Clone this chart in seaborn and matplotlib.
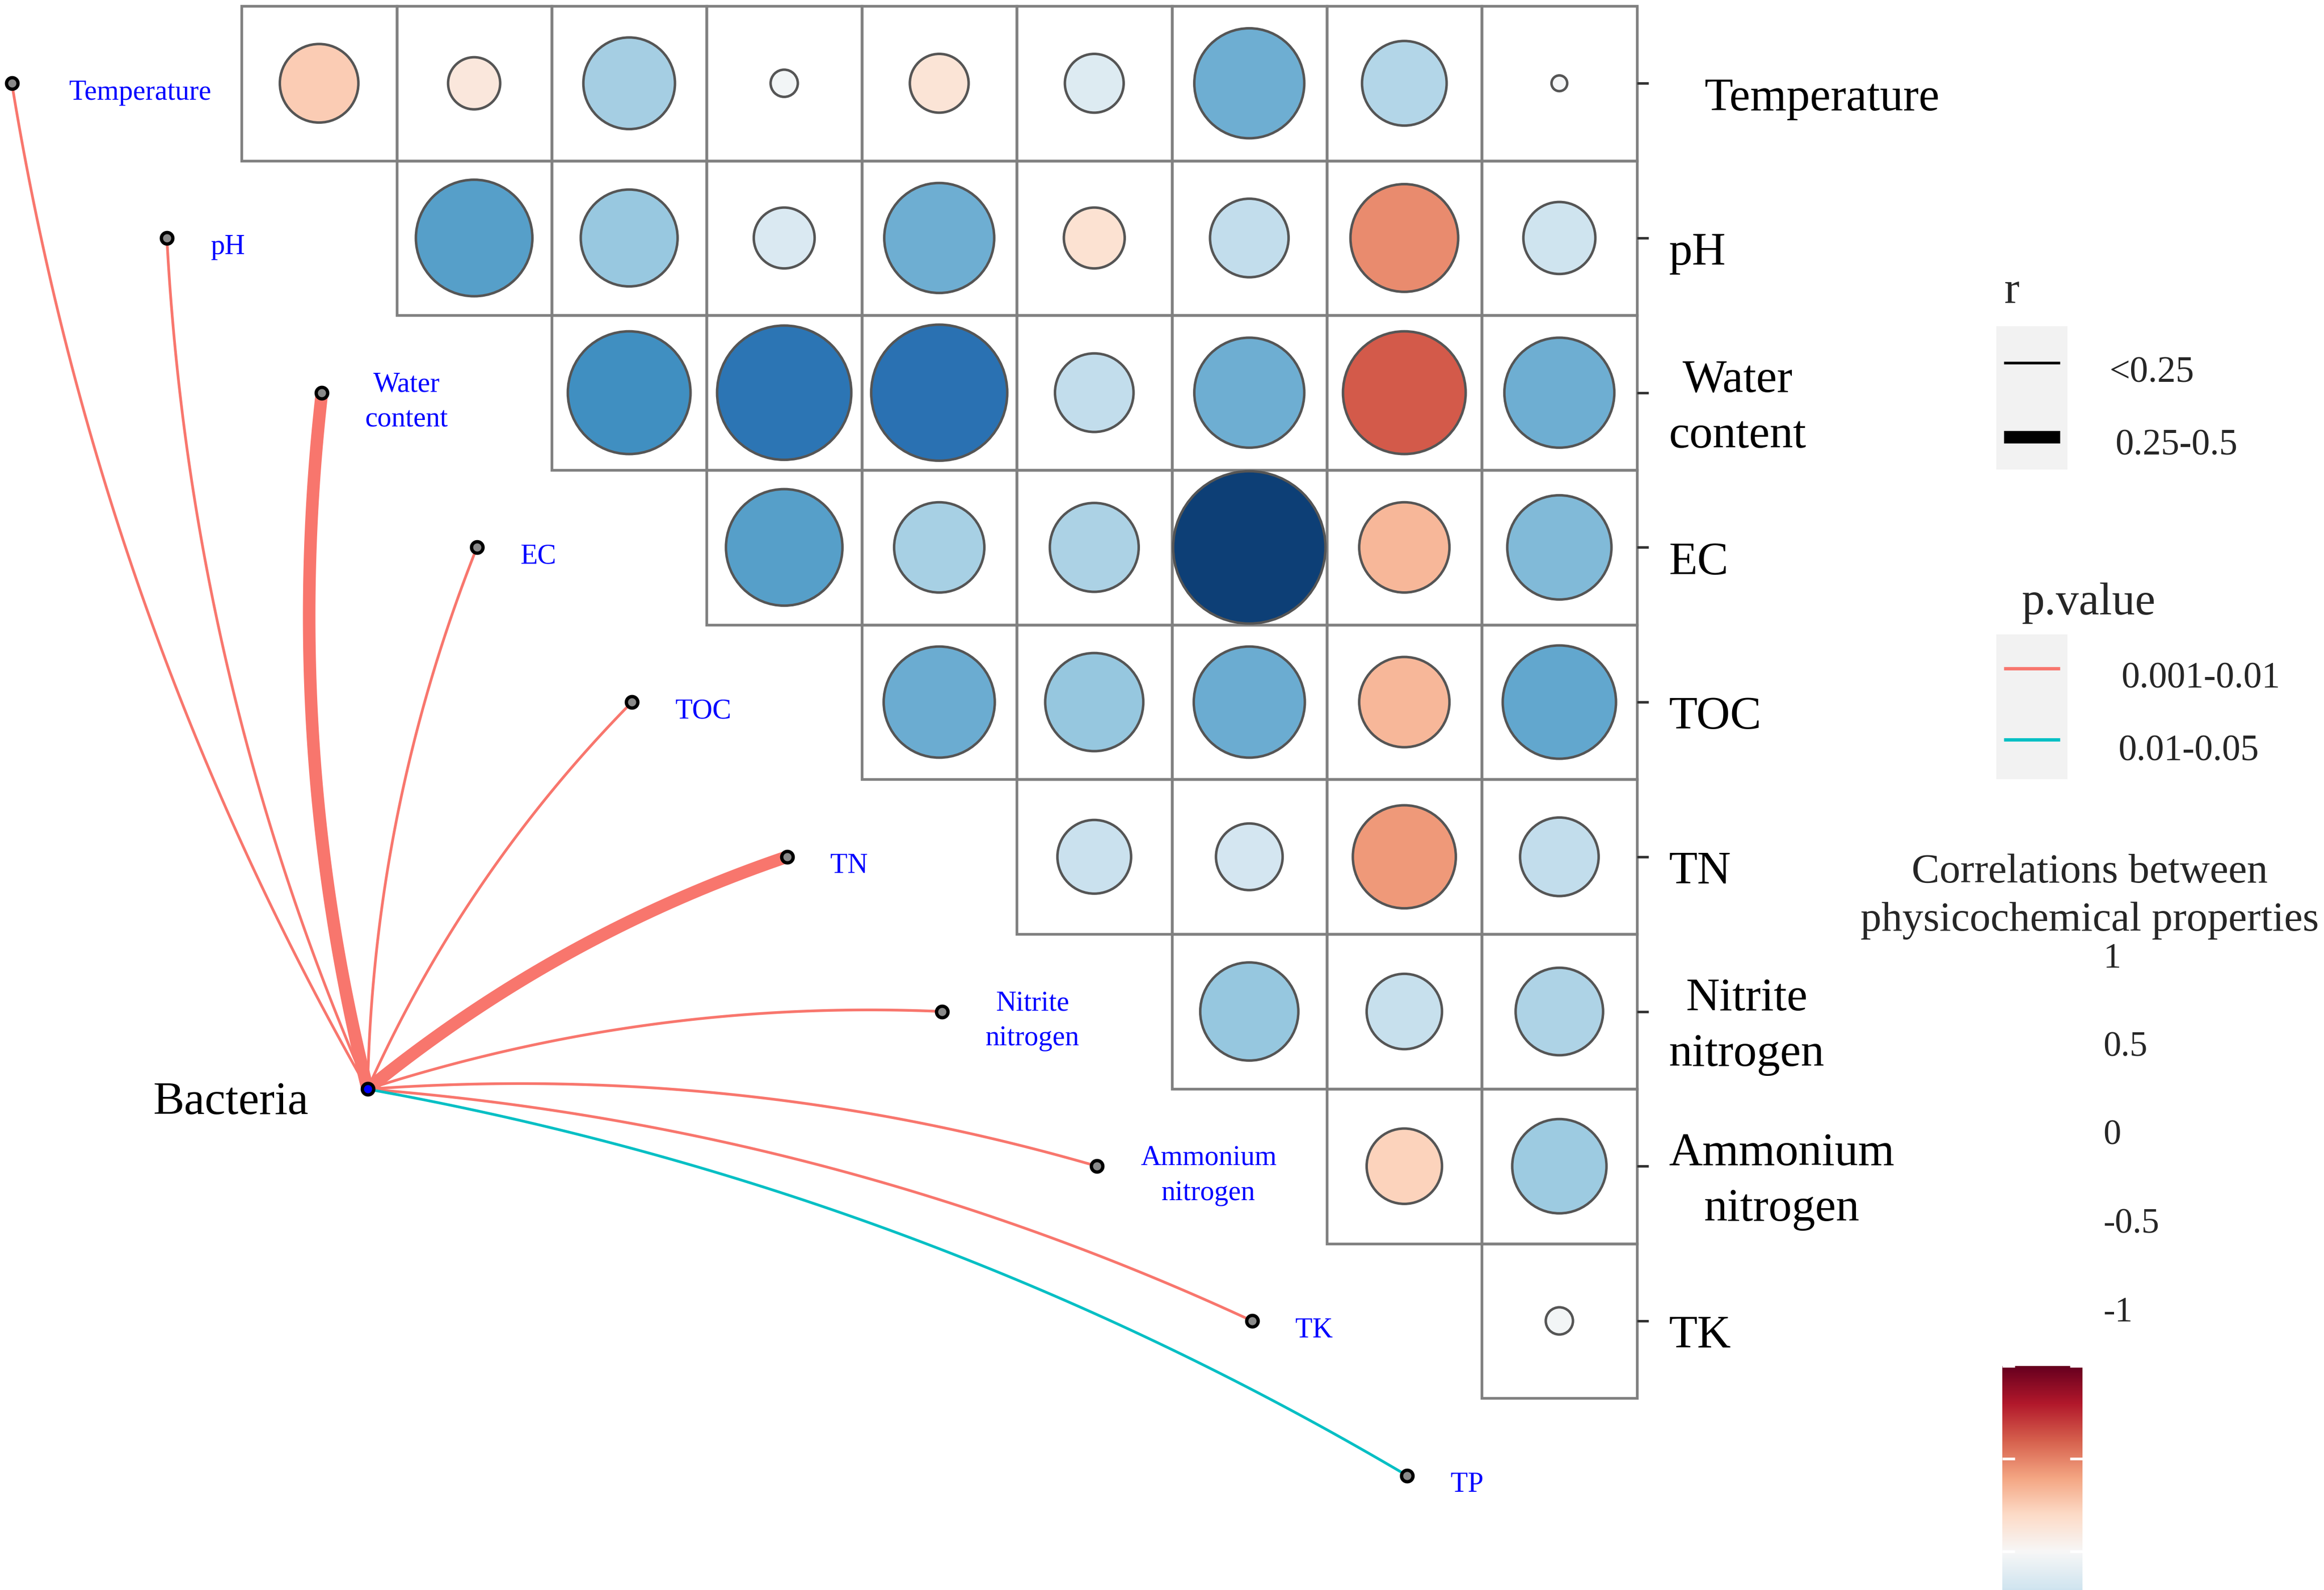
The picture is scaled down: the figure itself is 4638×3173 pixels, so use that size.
import matplotlib
matplotlib.use("Agg")
import matplotlib.pyplot as plt
import numpy as np
import pandas as pd
import seaborn as sns
from matplotlib.lines import Line2D
from matplotlib.patches import Rectangle

# variables (rows of the triangle + mantel targets)
variables = ["Temperature", "pH", "Water\ncontent", "EC", "TOC", "TN",
             "Nitrite\nnitrogen", "Ammonium\nnitrogen", "TK", "TP"]

# upper-triangle Pearson r: row i against variables i+1 ... TP
r_temperature = [0.25, 0.11, -0.34, -0.03, 0.14, -0.14, -0.49, -0.29, -0.01]
r_ph = [-0.55, -0.38, -0.15, -0.49, 0.15, -0.25, 0.47, -0.21]
r_water = [-0.61, -0.73, -0.75, -0.25, -0.49, 0.61, -0.49]
r_ec = [-0.55, -0.33, -0.32, -0.94, 0.33, -0.44]
r_toc = [-0.50, -0.39, -0.50, 0.33, -0.52]
r_tn = [-0.22, -0.18, 0.43, -0.25]
r_nitrite = [-0.39, -0.23, -0.31]
r_ammonium = [0.23, -0.36]
r_tk = [-0.03]
r_rows = [r_temperature, r_ph, r_water, r_ec, r_toc, r_tn, r_nitrite, r_ammonium, r_tk]

# mantel test Bacteria vs each property
mantel_r_class = ["<0.25", "<0.25", "0.25-0.5", "<0.25", "<0.25", "0.25-0.5",
                  "<0.25", "<0.25", "<0.25", "<0.25"]
mantel_p_class = ["0.001-0.01"] * 9 + ["0.01-0.05"]

r_levels = ["<0.25", "0.25-0.5"]
p_levels = ["0.001-0.01", "0.01-0.05"]
r_widths = {"<0.25": 1.3, "0.25-0.5": 6.0}
p_colors = {"0.001-0.01": "#F8766D", "0.01-0.05": "#00BFC4"}

# reference canvas in px, used for layout only
W, H = 1568, 1073
CW, CH = 104.6, 104.4
X0, Y0 = 163, 4


def fx(px):
    return px / W


def fy(py):
    return 1 - py / H


sns.set_theme(style="white")
plt.rcParams["font.family"] = ["Liberation Serif", "DejaVu Serif"]

fig = plt.figure(figsize=(4638 / 300, 3173 / 300), dpi=300)
ax = fig.add_axes([0, 0, 1, 1])
ax.set_xlim(-X0 / CW, (W - X0) / CW)
ax.set_ylim((H - Y0) / CH, -Y0 / CH)
ax.axis("off")

# correlation table
records = []
for i, row in enumerate(r_rows):
    for k, r in enumerate(row):
        j = i + k
        records.append({"x": j + 0.5, "y": i + 0.5, "r": r, "abs_r": abs(r)})
corr_df = pd.DataFrame(records)

# cell grid
for i in range(len(r_rows)):
    for j in range(i, len(r_rows)):
        ax.add_patch(Rectangle((j, i), 1, 1, facecolor="none", edgecolor="#808080",
                               lw=1.3, zorder=1))

# circles: area proportional to |r|
max_d_pt = 106 / CW * (4638 / 300 * 72) / (W / CW)
sns.scatterplot(data=corr_df, x="x", y="y", hue="r", size="abs_r",
                palette="RdBu_r", hue_norm=(-1, 1),
                sizes=(0, max_d_pt ** 2), size_norm=(0, 1),
                edgecolor="#555555", linewidth=1.2, legend=False, ax=ax, zorder=3)

# right side labels with ticks
n_rows = len(r_rows)
for i in range(n_rows):
    yc = i + 0.5
    ax.plot([n_rows, n_rows + 8 / CW], [yc, yc], color="#333333", lw=1.2,
            solid_capstyle="butt", zorder=2)
    xl = (1150 - X0) / CW if i == 0 else (1126 - X0) / CW
    ax.text(xl, yc + 0.1, variables[i], ha="left", va="center",
            multialignment="center", fontsize=22.4, color="black", linespacing=1.4)

# mantel network
hub = np.array([(248 - X0) / CW, (735 - Y0) / CH])
rad = 0.09
t = np.linspace(0, 1, 80)
for i, name in enumerate(variables):
    node = np.array([i - 1.482, i + 0.5])
    d = node - hub
    ctrl = (hub + node) / 2 + rad * np.array([d[1], -d[0]])
    curve = ((1 - t) ** 2)[:, None] * hub + (2 * (1 - t) * t)[:, None] * ctrl + (t ** 2)[:, None] * node
    ax.plot(curve[:, 0], curve[:, 1], color=p_colors[mantel_p_class[i]],
            lw=r_widths[mantel_r_class[i]], solid_capstyle="round", zorder=2)
    ax.plot(node[0], node[1], "o", ms=5.5, mfc="#8a8a8a", mec="black", mew=1.6, zorder=5)
    dx = 0.37 if i == 0 else 0.28
    ax.text(node[0] + dx, node[1] + 0.06, name, ha="left", va="center",
            multialignment="center", fontsize=13.5, color="blue", linespacing=1.45)

ax.plot(hub[0], hub[1], "o", ms=5.5, mfc="blue", mec="black", mew=1.6, zorder=6)
ax.text((208 - X0) / CW, (744 - Y0) / CH, "Bacteria", ha="right", va="center",
        fontsize=22.4, color="black")

# legend: r
fig.text(fx(1352), fy(197), "r", ha="left", va="center", fontsize=22)
fig.patches.append(Rectangle((fx(1347), fy(317)), fx(1395) - fx(1347), fy(220) - fy(317),
                             transform=fig.transFigure, facecolor="#f2f2f2",
                             edgecolor="none", zorder=1))
for lvl, ky, ty, tx in zip(r_levels, [245, 295], [252, 301], [1423, 1427]):
    fig.add_artist(Line2D([fx(1352), fx(1390)], [fy(ky), fy(ky)], color="black",
                          lw=r_widths[lvl], solid_capstyle="butt"))
    fig.text(fx(tx), fy(ty), lvl, ha="left", va="center", fontsize=17.6)

# legend: p.value
fig.text(fx(1364), fy(407), "p.value", ha="left", va="center", fontsize=22)
fig.patches.append(Rectangle((fx(1347), fy(526)), fx(1395) - fx(1347), fy(428) - fy(526),
                             transform=fig.transFigure, facecolor="#f2f2f2",
                             edgecolor="none", zorder=1))
for lvl, ky, ty, tx in zip(p_levels, [451, 499], [458, 507], [1431, 1429]):
    fig.add_artist(Line2D([fx(1352), fx(1390)], [fy(ky), fy(ky)], color=p_colors[lvl],
                          lw=1.6, solid_capstyle="butt"))
    fig.text(fx(tx), fy(ty), lvl, ha="left", va="center", fontsize=17.6)

# colour bar
fig.text(fx(1410), fy(605), "Correlations between\nphysicochemical properties",
         ha="center", va="center", multialignment="center", fontsize=20, linespacing=1.35)
cbar_ticks = [1, 0.5, 0, -0.5, -1]
for k, tv in enumerate(cbar_ticks):
    fig.text(fx(1419), fy(647 + 59.7 * k), f"{tv:g}", ha="left", va="center", fontsize=17)

cax = fig.add_axes([fx(1351), fy(1172), fx(1405) - fx(1351), fy(922) - fy(1172)])
grad = np.linspace(-1, 1, 256)[:, None]
cax.imshow(grad, cmap="RdBu_r", vmin=-1, vmax=1, aspect="auto", origin="lower",
           extent=[0, 1, -1, 1])
cax.set_xticks([])
cax.set_yticks(cbar_ticks)
cax.set_yticklabels([])
cax.tick_params(axis="y", which="both", direction="in", color="white", length=6,
                width=1.3, left=True, right=True)
for s in cax.spines.values():
    s.set_visible(False)

fig.savefig("out.png", dpi=300)
